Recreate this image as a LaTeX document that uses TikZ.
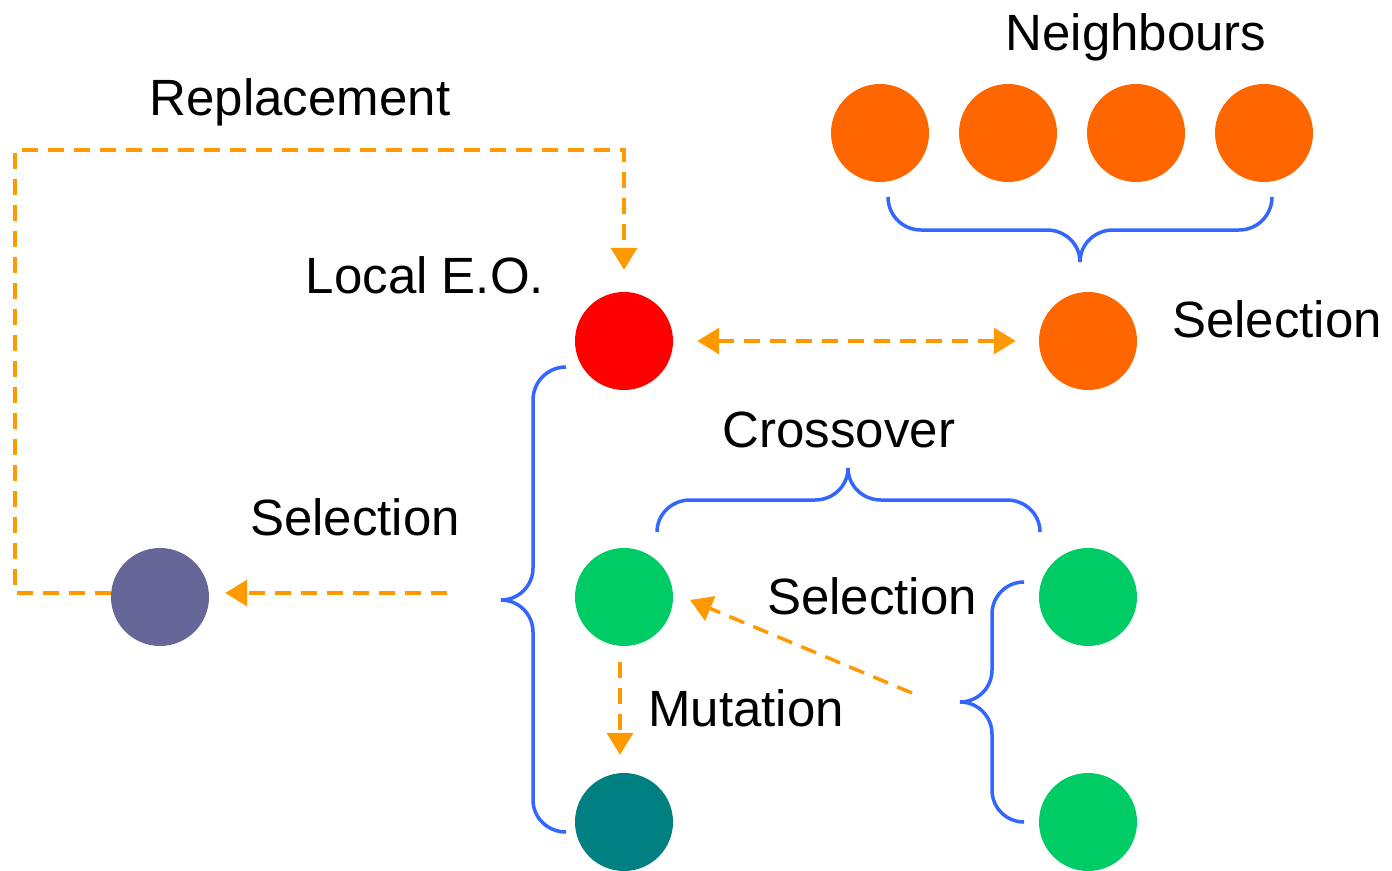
\documentclass[tikz,border=0pt]{standalone}
\usepackage{fontspec}
\setmainfont{Liberation Sans}
\usetikzlibrary{arrows.meta}
\definecolor{nbor}{HTML}{FF6600}
\definecolor{leo}{HTML}{FF0000}
\definecolor{child}{HTML}{00CC66}
\definecolor{mutant}{HTML}{008080}
\definecolor{chosen}{HTML}{666699}
\definecolor{bracec}{HTML}{3366FF}
\definecolor{flow}{HTML}{FF9900}
\tikzset{
  ind/.style={circle,minimum size=98pt,inner sep=0pt,draw=none},
  lbl/.style={anchor=base,inner sep=0pt,font=\fontsize{51}{60}\selectfont},
  flowline/.style={draw=flow,line width=3.5pt,dash pattern=on 16pt off 10pt},
  flowarrow/.style={flowline,-{Triangle[length=22pt,width=26pt]}},
  flowboth/.style={flowline,{Triangle[length=22pt,width=26pt]}-{Triangle[length=22pt,width=26pt]}},
  bracel/.style={draw=bracec,line width=3.5pt}
}
\begin{document}
\begin{tikzpicture}[x=1pt,y=-1pt]
\useasboundingbox (0,0) rectangle (1392,870);

% individuals
\node[ind,fill=nbor] (n1) at (880,133) {};
\node[ind,fill=nbor] (n2) at (1008,133) {};
\node[ind,fill=nbor] (n3) at (1136,133) {};
\node[ind,fill=nbor] (n4) at (1264,133) {};
\node[ind,fill=nbor] (sel) at (1088,341) {};
\node[ind,fill=leo] (eo) at (624,341) {};
\node[ind,fill=child] (g1) at (624,597) {};
\node[ind,fill=child] (g2) at (1088,597) {};
\node[ind,fill=child] (g3) at (1088,822) {};
\node[ind,fill=mutant] (mut) at (624,822) {};
\node[ind,fill=chosen] (pick) at (160,597) {};

% labels
\node[lbl] (tn) at (1136,50) {Neighbours};
\node[lbl] (tr) at (300,115) {Replacement};
\node[lbl] (tl) at (425,293) {Local E.O.};
\node[lbl] (ts1) at (1277,337) {Selection};
\node[lbl] (tc) at (839,447) {Crossover};
\node[lbl] (ts2) at (355,535) {Selection};
\node[lbl] (ts3) at (872,614) {Selection};
\node[lbl] (tm) at (746,726) {Mutation};

% braces (angles are in page orientation: 90 = up)
\draw[bracel] (888,197) to[out=-90,in=180] (921,230) -- (1047,230)
  to[out=0,in=90] (1080,262) to[out=90,in=180] (1113,230) -- (1239,230)
  to[out=0,in=-90] (1272,197);
\draw[bracel] (657,532) to[out=90,in=180] (690,500) -- (815,500)
  to[out=0,in=-90] (848,468) to[out=-90,in=180] (881,500) -- (1007,500)
  to[out=0,in=90] (1040,532);
\draw[bracel] (566,367) to[out=180,in=90] (533,400) -- (533,568)
  to[out=-90,in=0] (501,600) to[out=0,in=90] (533,632) -- (533,800)
  to[out=-90,in=180] (566,832);
\draw[bracel] (1024,582) to[out=180,in=90] (992,614) -- (992,670)
  to[out=-90,in=0] (960,702) to[out=0,in=90] (992,734) -- (992,790)
  to[out=-90,in=180] (1024,822);

% flows
\coordinate (rl) at (15,593);
\coordinate (rt) at (15,150);
\draw[flowarrow] ([yshift=4pt]pick.west) -- (rl) -- (rt) -| ([yshift=22pt]eo.north);
\draw[flowboth,shorten <=24pt,shorten >=23pt] (eo) -- (sel);
\coordinate (s2start) at (447,593);
\draw[flowarrow,shorten >=16pt] (s2start) -- (s2start -| pick.east);
\coordinate (xstart) at (912,693);
\coordinate (xend) at (690,600);
\draw[flowarrow] (xstart) -- (xend);
\draw[flowarrow] ([xshift=-4pt,yshift=-16pt]g1.south) -- ([xshift=-4pt,yshift=18pt]mut.north);
\end{tikzpicture}
\end{document}
